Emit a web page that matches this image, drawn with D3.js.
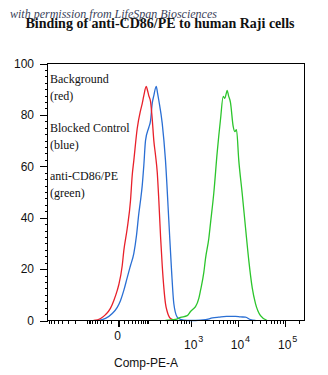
<!DOCTYPE html>
<html><head><meta charset="utf-8">
<script src="https://cdn.jsdelivr.net/npm/d3@7"></script>
<style>body{margin:0;background:#fff} svg{display:block}</style>
</head><body><svg id="c" width="328" height="375"></svg>
<script>
// ---- data (Comp-PE-A intensity vs % of max) ----
const redX = [-64,-37,-23,-12,-5.7,-0.4,1.9,7.5,10.4,17.5,25.6,30.3,35.2,46.7,59.9,67.6,75.4,88.4,96,104,116,128,141,156,172,188,207,227,248,271,297,354,460];
const redY = [0,0.8,2.3,4.7,7.8,11.7,14.0,21.4,27.2,35.8,46.7,56.4,62.3,74.7,81.7,84.4,87.5,91.1,89.5,87.5,85.2,78.6,70.0,64.2,57.6,46.7,32.7,21.4,12.8,6.6,3.5,0.8,0];
const blueX = [-47.8,-23,-8.5,-0.4,4.6,10.4,17.5,25.6,35.2,44.1,52.8,59.9,67.6,75.4,84.4,104,116,128,141,162,174,188,227,271,324,374,421,502,595,835,1266,2080,2935,4000,5835,9063,11565,14770,18850,24050];
const blueY = [0,0.8,2.7,5.1,7.8,11.7,16.7,21.4,26.1,33.1,41.6,46.7,52.5,60.3,70.0,75.1,77.8,84.4,87.5,91.1,88.7,85.6,76.7,62.3,38.9,19.5,6.6,1.3,0.4,0,0,0.3,1.0,1.3,1.6,1.6,1.4,1.3,0.3,0];
const greenX = [271,460,595,835,986,1163,1266,1493,1624,1913,2080,2447,2662,3131,3698,4347,4964,5366,5695,6035,6440,7093,8094,8752,9512,10640,12570,14770,17360,20480,24050,30680,42570];
const greenY = [0,0.4,1.2,1.9,3.5,4.7,5.4,8.6,11.7,18.7,24.1,31.9,37.9,49.6,65.4,78.2,87.2,86.4,88.0,89.5,87.5,84.8,75.5,73.5,74.3,62.3,49.4,36.2,23.3,12.8,6.6,1.9,0];

const yTicks = [0,20,40,60,80,100];
const xMajor = [0,1000,10000,100000];
const xMajorBase = ["0","10","10","10"];
const xMajorExp = ["","3","4","5"];
const legendLines = ["Background","(red)","Blocked Control","(blue)","anti-CD86/PE","(green)"];
const titleText = "Binding of anti-CD86/PE to human Raji cells";
const watermark = "with permission from LifeSpan Biosciences";
const xLabel = "Comp-PE-A";

// ---- drawing ----
const svg = d3.select("#c");
const L = 47.5, R = 304.5, T = 63.5, B = 320.5;
const x = d3.scaleSymlog().constant(29).domain([-850, 262144]).range([L, R]);
const y = d3.scaleLinear().domain([0, 100]).range([B, T]);

svg.append("text").attr("x", 10).attr("y", 18)
  .attr("font-family", "Liberation Serif, serif").attr("font-style", "italic")
  .attr("font-size", 12).attr("fill", "#3a3f5a").text(watermark);
svg.append("text").attr("x", 160).attr("y", 27.5).attr("text-anchor", "middle")
  .attr("font-family", "Liberation Serif, serif").attr("font-weight", "bold")
  .attr("font-size", 14).attr("fill", "#111").text(titleText);

// minor x ticks
const xMinor = [];
for (const s of [-1, 1]) {
  for (let d = 10; d <= 100000; d *= 10) {
    for (let k = 1; k <= 9; k++) {
      const v = s * k * d;
      if (v > -850 && v < 262144 && !xMajor.includes(v)) xMinor.push(v);
    }
  }
}
const yMinor = d3.range(0, 100.01, 2.5).filter(v => !yTicks.includes(v));

const g = svg.append("g").attr("stroke", "#000").attr("shape-rendering", "crispEdges");
g.selectAll(".xm").data(xMinor).join("line")
  .attr("x1", d => Math.round(x(d)) + 0.5).attr("x2", d => Math.round(x(d)) + 0.5)
  .attr("y1", B).attr("y2", B + 3);
g.selectAll(".xM").data(xMajor).join("line")
  .attr("x1", d => Math.round(x(d)) + 0.5).attr("x2", d => Math.round(x(d)) + 0.5)
  .attr("y1", B).attr("y2", B + 6).attr("stroke-width", d => d === 0 ? 2 : 1);
g.selectAll(".ym").data(yMinor).join("line")
  .attr("y1", d => Math.round(y(d)) + 0.5).attr("y2", d => Math.round(y(d)) + 0.5)
  .attr("x1", L - 3).attr("x2", L);
g.selectAll(".yM").data(yTicks).join("line")
  .attr("y1", d => Math.round(y(d)) + 0.5).attr("y2", d => Math.round(y(d)) + 0.5)
  .attr("x1", L - 8).attr("x2", L);

svg.selectAll(".yl").data(yTicks).join("text")
  .attr("x", 34).attr("y", d => y(d)).attr("dy", "0.36em").attr("text-anchor", "end")
  .attr("font-family", "Liberation Sans, Arial, sans-serif").attr("font-size", 12)
  .attr("fill", "#111").text(d => d);

const xl = svg.selectAll(".xl").data(xMajor).join("text")
  .attr("x", d => x(d)).attr("y", (d, i) => i === 0 ? 340 : 349)
  .attr("text-anchor", "middle")
  .attr("font-family", "Liberation Sans, Arial, sans-serif").attr("font-size", 12)
  .attr("fill", "#111");
xl.append("tspan").text((d, i) => xMajorBase[i]);
svg.selectAll(".xe").data(xMajor.filter((d, i) => xMajorExp[i])).join("text")
  .attr("x", d => x(d) + 7.5).attr("y", 342)
  .attr("font-family", "Liberation Sans, Arial, sans-serif").attr("font-size", 9)
  .attr("fill", "#111").text((d, i) => xMajorExp[i + 1]);

svg.append("text").attr("x", 146).attr("y", 367).attr("text-anchor", "middle")
  .attr("font-family", "Liberation Sans, Arial, sans-serif").attr("font-size", 12)
  .attr("fill", "#111").text(xLabel);

const legendY = [83, 100, 131.5, 148.5, 180, 197];
svg.selectAll(".lg").data(legendLines).join("text")
  .attr("x", 50).attr("y", (d, i) => legendY[i])
  .attr("font-family", "Liberation Serif, serif").attr("font-size", 12)
  .attr("fill", "#111").text(d => d);

const line = d3.line().x(d => x(d[0])).y(d => y(d[1])).curve(d3.curveMonotoneX);
const series = [
  {xs: blueX, ys: blueY, c: "#2a6fd4"},
  {xs: redX, ys: redY, c: "#e8202a"},
  {xs: greenX, ys: greenY, c: "#2cc52c"}
];
svg.append("g").selectAll("path").data(series).join("path")
  .attr("d", s => line(s.xs.map((v, i) => [v, s.ys[i]])))
  .attr("fill", "none").attr("stroke", s => s.c).attr("stroke-width", 1.3);

svg.append("rect").attr("x", L).attr("y", T).attr("width", R - L).attr("height", B - T)
  .attr("fill", "none").attr("stroke", "#000").attr("shape-rendering", "crispEdges");
</script></body></html>
